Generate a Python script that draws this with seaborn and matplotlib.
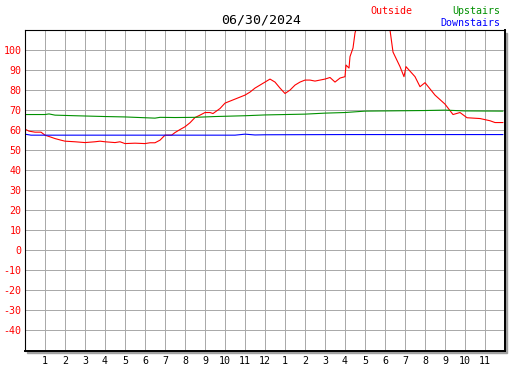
import pandas as pd
import seaborn as sns
import matplotlib.pyplot as plt
from matplotlib.patches import Rectangle

# readings taken off the reference chart (hours since midnight, deg F)
outside_hours = [0.0, 0.2, 0.5, 0.8, 1.0, 1.3, 1.5, 1.8, 2.0, 2.5, 3.0, 3.5, 3.75, 4.0,
                 4.5, 4.75, 5.0, 5.5, 6.0, 6.25, 6.5, 6.75, 7.0, 7.33, 7.5, 7.75, 8.0,
                 8.25, 8.5, 8.75, 9.0, 9.25, 9.4, 9.75, 10.0, 10.5, 11.0, 11.25,
                 11.5, 11.75, 12.0, 12.25, 12.5, 12.75, 13.0, 13.25, 13.5, 13.75, 14.0,
                 14.25, 14.5, 14.75, 15.0, 15.25, 15.5, 15.75, 16.0, 16.05, 16.2, 16.25,
                 16.4, 16.5, 16.6, 17.0, 17.4, 17.8, 18.1, 18.25, 18.4, 18.75, 18.95,
                 19.05, 19.5, 19.75, 20.0, 20.5, 21.0, 21.4, 21.75, 22.1, 22.75, 23.25,
                 23.5, 23.9]
outside_temp = [60.5, 59.5, 59, 59, 57.5, 56.5, 55.8, 55, 54.5, 54.2, 53.8, 54.2, 54.5,
                54.2, 53.8, 54.2, 53.3, 53.5, 53.3, 53.7, 53.7, 55, 57.5, 57.5, 58.8, 60.3,
                61.7, 63.7, 66.3, 67.5, 68.8, 68.8, 68.3, 70.8, 73.5, 75.5, 77.5, 79, 81, 82.5,
                84, 85.5, 84, 81, 78.3, 80, 82.5, 84, 85, 85, 84.5, 85, 85.5, 86.3, 84,
                86, 86.7, 92.5, 91, 96.7, 101, 108.5, 112, 122, 127, 122, 113, 110, 99,
                91.7, 86.7, 91.7, 86.7, 81.7, 83.7, 77.5, 73, 67.8, 68.8, 66.2, 65.8,
                64.7, 63.8, 63.8]

upstairs_hours = [0, 1.0, 1.2, 1.5, 2.5, 4.0, 5.0, 6.5, 6.75, 7.5, 8.5, 9.5, 11.0, 12.0,
                  14.0, 15.0, 16.0, 17.0, 20.0, 21.0, 22.0, 23.9]
upstairs_temp = [67.8, 67.8, 68.1, 67.5, 67.2, 66.8, 66.6, 66.0, 66.4, 66.3, 66.4, 66.8,
                 67.2, 67.6, 68.0, 68.5, 68.8, 69.5, 69.8, 70.0, 69.6, 69.5]

downstairs_hours = [0, 0.3, 10.5, 11.0, 11.5, 12.0, 16.0, 23.9]
downstairs_temp = [58.0, 57.5, 57.5, 58.0, 57.6, 57.7, 57.8, 57.8]

hour_labels = [str(h) for h in list(range(1, 13)) + list(range(1, 12))]
y_ticks = list(range(-40, 101, 10))

sns.set_style("white")
plt.rcParams['font.family'] = ['DejaVu Sans Mono']

fig = plt.figure(figsize=(5.27, 3.70), dpi=100)
ax = fig.add_axes([25 / 527, 1 - 350.5 / 370, 480 / 527, 320.5 / 370])

# drop shadow behind the plot frame
fig.patches.append(Rectangle((27 / 527, 1 - 353 / 370), 480 / 527, 320.5 / 370,
                             transform=fig.transFigure, color="#a0a0a0", zorder=-1))

lw = 0.8
sns.lineplot(x=outside_hours, y=outside_temp, color="red", lw=lw, ax=ax)
sns.lineplot(x=upstairs_hours, y=upstairs_temp, color="#009000", lw=lw, ax=ax)
sns.lineplot(x=downstairs_hours, y=downstairs_temp, color="blue", lw=lw, ax=ax)

ax.set_xlim(0, 24)
ax.set_ylim(-50, 110)
ax.set_xticks(range(1, 24))
ax.set_xticklabels(hour_labels, fontsize=7.2, color="black")
ax.set_yticks(y_ticks)
ax.set_yticklabels([str(v) for v in y_ticks], fontsize=7.2, color="red")
ax.tick_params(axis="both", direction="in", length=3.6, width=0.7, color="black")
ax.tick_params(axis="x", pad=4)
ax.tick_params(axis="y", pad=2.5)
ax.grid(True, color="#a8a8a8", lw=0.7)
ax.set_axisbelow(True)
for side in ["left", "top"]:
    ax.spines[side].set_color("black")
    ax.spines[side].set_linewidth(0.8)
for side in ["right", "bottom"]:
    ax.spines[side].set_color("black")
    ax.spines[side].set_linewidth(1.4)

fig.text(261 / 527, 1 - 20 / 370, "06/30/2024", ha="center", va="center", fontsize=9.5, color="black")
fig.text(370 / 527, 1 - 11 / 370, "Outside", ha="left", va="center", fontsize=7.2, color="red")
fig.text(500 / 527, 1 - 11 / 370, "Upstairs", ha="right", va="center", fontsize=7.2, color="#009000")
fig.text(500 / 527, 1 - 23 / 370, "Downstairs", ha="right", va="center", fontsize=7.2, color="blue")

fig.savefig("out.png", dpi=100)
